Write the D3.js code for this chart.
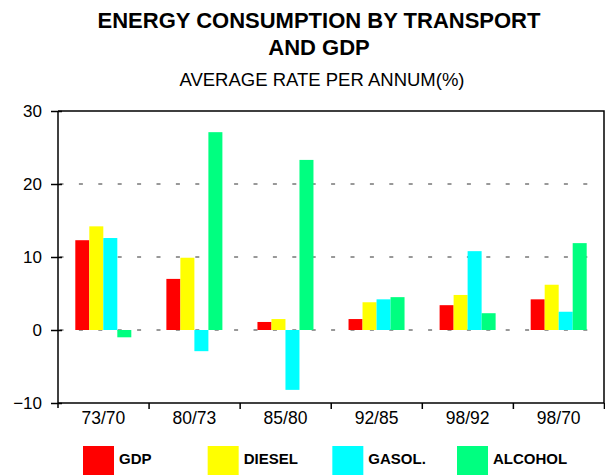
<!DOCTYPE html>
<html><head><meta charset="utf-8">
<script src="https://cdn.jsdelivr.net/npm/d3@7"></script>
<style>
html,body{margin:0;padding:0;background:#fff;}
svg{display:block;font-family:"Liberation Sans",Arial,sans-serif;}
</style></head>
<body>
<script>
const categories = ["73/70","80/73","85/80","92/85","98/92","98/70"];
const seriesNames = ["GDP","DIESEL","GASOL.","ALCOHOL"];
const seriesColors = ["#FF0000","#FFFF00","#00FFFF","#00FF80"];
const gdp     = [12.3, 7.0, 1.1, 1.5, 3.4, 4.2];
const diesel  = [14.2, 9.9, 1.5, 3.8, 4.8, 6.2];
const gasol   = [12.6, -2.9, -8.2, 4.2, 10.8, 2.5];
const alcohol = [-1.0, 27.1, 23.3, 4.5, 2.3, 11.9];
const yTicks  = [-10, 0, 10, 20, 30];
const gridTicks = [0, 10, 20];

(function () {
const seriesValues = [gdp, diesel, gasol, alcohol];
const W = 605, H = 475;
const pL = 58, pR = 604, pT = 111, pB = 403;

const svg = d3.select("body").append("svg").attr("width", W).attr("height", H);

// titles
svg.append("text").attr("x", 319).attr("y", 28).attr("text-anchor","middle")
  .attr("font-size", 22).attr("font-weight","bold").text("ENERGY CONSUMPTION BY TRANSPORT");
svg.append("text").attr("x", 319).attr("y", 55).attr("text-anchor","middle")
  .attr("font-size", 22).attr("font-weight","bold").text("AND GDP");
svg.append("text").attr("x", 322).attr("y", 86).attr("text-anchor","middle")
  .attr("font-size", 18.5).text("AVERAGE RATE PER ANNUM(%)");

const x0 = d3.scaleBand().domain(categories).range([pL, pR])
  .paddingInner(0.385).paddingOuter(0.19);
const x1 = d3.scaleBand().domain(seriesNames).range([0, x0.bandwidth()]);
const y = d3.scaleLinear().domain([-10, 30]).range([pB, pT]);

// gridlines
svg.append("g").selectAll("line").data(gridTicks).join("line")
  .attr("x1", pL + 1).attr("x2", pR - 2)
  .attr("y1", d => y(d)).attr("y2", d => y(d))
  .attr("stroke", "#333").attr("stroke-width", 1)
  .attr("stroke-dasharray", "4,15.4").attr("stroke-dashoffset", -0.5);

// bars
const rows = categories.map((c, i) => ({c, vals: seriesNames.map((s, j) => ({s, j, v: seriesValues[j][i]}))}));
const g = svg.append("g").selectAll("g").data(rows).join("g")
  .attr("transform", d => `translate(${x0(d.c)},0)`);
g.selectAll("rect").data(d => d.vals).join("rect")
  .attr("x", d => x1(d.s))
  .attr("width", x1.bandwidth())
  .attr("y", d => y(Math.max(0, d.v)))
  .attr("height", d => Math.abs(y(d.v) - y(0)))
  .attr("fill", d => seriesColors[d.j]);

// frame (top and right)
svg.append("path").attr("d", `M${pL},${pT}H${pR}V${pB}`)
  .attr("fill","none").attr("stroke","#000").attr("stroke-width",1.5);

// y axis
const yAxis = svg.append("g").attr("transform", `translate(${pL},0)`)
  .call(d3.axisLeft(y).tickValues(yTicks).tickSize(7).tickPadding(9).tickFormat(d3.format("d")));
yAxis.select(".domain").remove();
yAxis.append("line").attr("x1",0).attr("x2",0).attr("y1",pT).attr("y2",pB+5)
  .attr("stroke","#000").attr("stroke-width",1.5);
yAxis.selectAll(".tick line").attr("x2", 4).attr("x1", -7).attr("stroke-width",1.5);
yAxis.selectAll(".tick text").attr("font-size", 17).attr("fill","#000")
  .attr("font-family","Liberation Sans, Arial, sans-serif");

// x axis
const xAxis = svg.append("g").attr("transform", `translate(0,${pB})`)
  .call(d3.axisBottom(x0).tickSize(0).tickPadding(9));
xAxis.select(".domain").remove();
xAxis.append("line").attr("x1",pL).attr("x2",pR).attr("y1",0).attr("y2",0)
  .attr("stroke","#000").attr("stroke-width",1.5);
const edges = d3.range(1, categories.length + 1).map(i => pL + i * x0.step());
xAxis.append("g").selectAll("line").data(edges).join("line")
  .attr("x1", d => d).attr("x2", d => d).attr("y1", 0).attr("y2", 6)
  .attr("stroke","#000").attr("stroke-width",1.5);
xAxis.selectAll(".tick text").attr("font-size", 17.5).attr("fill","#000")
  .attr("font-family","Liberation Sans, Arial, sans-serif");

// legend
const legX = d3.scalePoint().domain(seriesNames).range([83, 457]);
const leg = svg.append("g").selectAll("g").data(seriesNames).join("g")
  .attr("transform", d => `translate(${legX(d)},446)`);
leg.append("rect").attr("width", 31).attr("height", 30)
  .attr("fill", (d, i) => seriesColors[i]);
leg.append("text").attr("x", 36).attr("y", 17.5).attr("font-size", 15)
  .attr("font-weight","bold").text(d => d);
})();
</script>
</body></html>
